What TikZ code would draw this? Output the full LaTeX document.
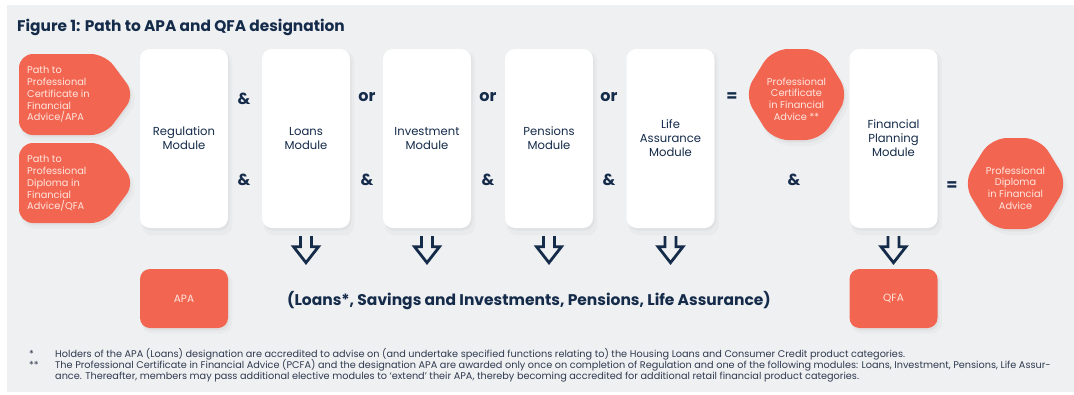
\documentclass[tikz,border=0pt]{standalone}
\usepackage{fontspec}
\setmainfont{Poppins}
\usetikzlibrary{shadows,calc}
\definecolor{navy}{HTML}{152B4A}
\definecolor{org}{HTML}{F26651}
\definecolor{pinktxt}{HTML}{FFE6DF}
\definecolor{panel}{HTML}{EFF0F2}
\definecolor{foot}{HTML}{2E3A4E}
\begin{document}
\begin{tikzpicture}[x=1pt,y=-1pt,
  soft/.style={general shadow={fill=black,opacity=.025,shadow xshift=3pt,shadow yshift=-4.5pt,shadow scale=1.03},
               general shadow={fill=black,opacity=.035,shadow xshift=1.5pt,shadow yshift=-2.5pt}},
  module/.style={soft,fill=white,rounded corners=10pt,minimum width=88pt,minimum height=179pt,inner sep=0pt,
                 font=\fontsize{11.6}{14}\selectfont,text=navy,align=center},
  orgbox/.style={soft,fill=org,rounded corners=10pt,minimum width=88pt,minimum height=59pt,inner sep=0pt,
                 font=\fontsize{10.5}{10}\selectfont,text=pinktxt},
  orgshape/.style={soft,fill=org},
  lefttxt/.style={font=\fontsize{9.8}{11.8}\selectfont,text=pinktxt,align=left,inner sep=0pt,anchor=west},
  hextxt/.style={font=\fontsize{9.8}{11.8}\selectfont,text=pinktxt,align=center,inner sep=0pt},
  conj/.style={font=\fontsize{16}{16}\bfseries\selectfont,text=navy,inner sep=0pt},
  footstyle/.style={font=\fontsize{9.7}{11}\selectfont,text=foot,inner sep=0pt,anchor=base west},
  downarrow/.pic={\draw[navy,line width=2.8pt,line join=miter]
      (-5.5,0) -- (-5.5,10.5) -- (-12.5,10.5) -- (0,26.5) -- (12.5,10.5) -- (5.5,10.5) -- (5.5,0);}
]
\useasboundingbox (0,0) rectangle (1074,394);
\fill[panel] (7,5) rectangle (1074,392);

% title
\node[font=\fontsize{15.4}{15}\bfseries\selectfont,text=navy,anchor=base west,inner sep=0pt] (title) at (17,31)
  {Figure 1: Path to APA and QFA designation};

% left path shapes
\fill[orgshape,rounded corners=14pt] (19,54) -- (105,54) -- (135,94.5) -- (105,135) -- (19,135) -- cycle;
\fill[orgshape,rounded corners=14pt] (19,143) -- (105,143) -- (135,183) -- (105,223) -- (19,223) -- cycle;
\node[lefttxt] (papa) at (27,94.5) {Path to\\Professional\\Certificate in\\Financial\\Advice/APA};
\node[lefttxt] (pqfa) at (27,183.5) {Path to\\Professional\\Diploma in\\Financial\\Advice/QFA};

% modules
\node[module] (reg)  at (184,138.5) {Regulation\\Module};
\node[module] (loan) at (306,138.5) {Loans\\Module};
\node[module] (inv)  at (427,138.5) {Investment\\Module};
\node[module] (pen)  at (549,138.5) {Pensions\\Module};
\node[module] (life) at (670.5,138.5) {Life\\Assurance\\Module};
\node[module] (fp)   at (893.5,138.5) {Financial\\Planning\\Module};

% hexagons
\fill[orgshape,rounded corners=16pt] (744,94.5) -- (772,49) -- (821,49) -- (849,94.5) -- (821,140) -- (772,140) -- cycle;
\node[hextxt] (pcfa) at (796.5,99) {Professional\\Certificate\\in Financial\\Advice **};
\fill[orgshape,rounded corners=16pt] (963,183.5) -- (991,138) -- (1040,138) -- (1068,183.5) -- (1040,229) -- (991,229) -- cycle;
\node[hextxt] (pdfa) at (1015.5,188) {Professional\\Diploma\\in Financial\\Advice};

% conjunctions
\node[conj] (a1) at (244,99) {\&};
\node[conj] (a2) at (244,180) {\&};
\node[conj] (o1) at (367,97) {or};
\node[conj] (a3) at (367,180) {\&};
\node[conj] (o2) at (488,97) {or};
\node[conj] (a4) at (488,180) {\&};
\node[conj] (o3) at (609,97) {or};
\node[conj] (a5) at (609,180) {\&};
\node[conj] (e1) at (732,97) {=};
\node[conj] (a6) at (794,180) {\&};
\node[conj] (e2) at (952,186) {=};

% arrows
\foreach \m in {loan,inv,pen,life,fp}
  \pic at ($(\m.south)+(0,8)$) {downarrow};

% bottom boxes
\node[orgbox] (apa) at (184,298.5) {APA};
\node[orgbox] (qfa) at (893.5,298.5) {QFA};
\node[font=\fontsize{15.5}{15}\bfseries\selectfont,text=navy,inner sep=0pt] (list) at (529,301)
  {(Loans*, Savings and Investments, Pensions, Life Assurance)};

% footnotes
\node[footstyle] (s1) at (29,357.5) {*};
\node[footstyle] (f1) at (55,357.5) {Holders of the APA (Loans) designation are accredited to advise on (and undertake specified functions relating to) the Housing Loans and Consumer Credit product categories.};
\node[footstyle] (s2) at (29,368.5) {**};
\node[footstyle] (f2) at (55,368.5) {The Professional Certificate in Financial Advice (PCFA) and the designation APA are awarded only once on completion of Regulation and one of the following modules: Loans, Investment, Pensions, Life Assur-};
\node[footstyle] (f3) at (55,379.5) {ance. Thereafter, members may pass additional elective modules to ‘extend’ their APA, thereby becoming accredited for additional retail financial product categories.};
\end{tikzpicture}
\end{document}
